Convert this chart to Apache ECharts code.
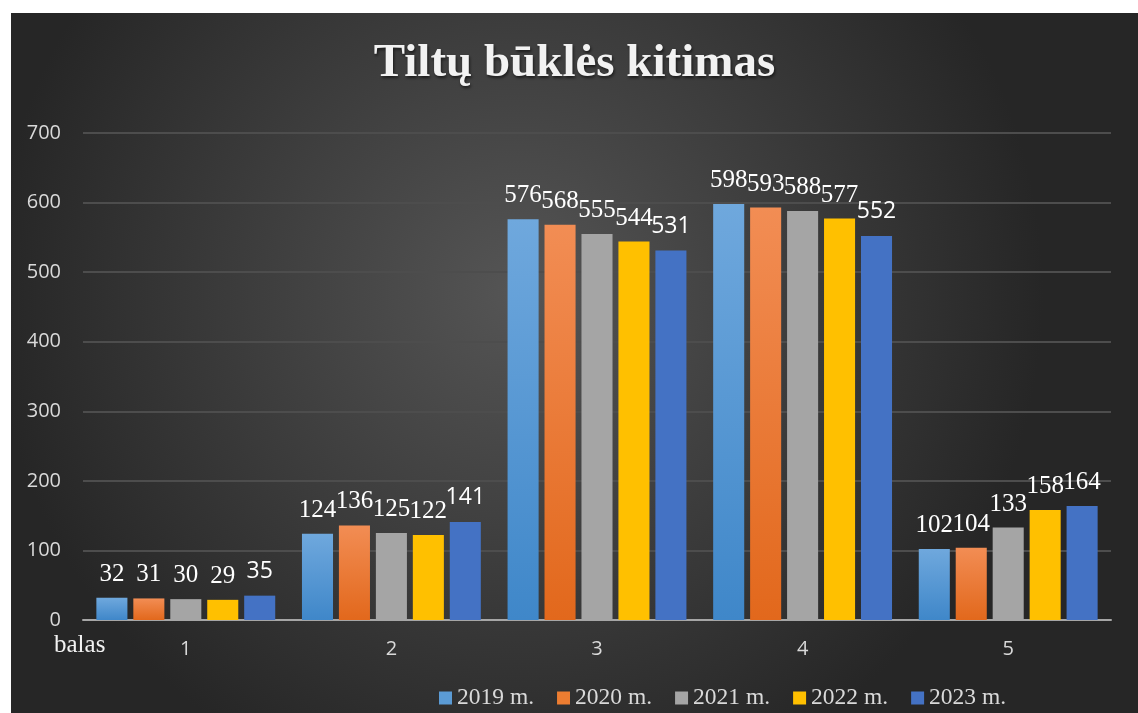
<!DOCTYPE html>
<html>
<head>
<meta charset="utf-8">
<script src="https://cdn.jsdelivr.net/npm/echarts@6/dist/echarts.min.js"></script>
<style>
  html, body { margin: 0; padding: 0; background: #fff; }
  #main { position: absolute; left: 11px; top: 13px; width: 1127px; height: 700px; }
</style>
</head>
<body>
<div id="main"></div>
<script>
// data
const categories = ['1', '2', '3', '4', '5'];
const years = ['2019 m.', '2020 m.', '2021 m.', '2022 m.', '2023 m.'];
const v2019 = [32, 124, 576, 598, 102];
const v2020 = [31, 136, 568, 593, 104];
const v2021 = [30, 125, 555, 588, 133];
const v2022 = [29, 122, 544, 577, 158];
const v2023 = [35, 141, 531, 552, 164];

const serif = '"Liberation Serif", "Times New Roman", serif';
const sans = '"Open Sans", "Liberation Sans", sans-serif';

// series colours
const vgrad = (top, bottom) => new echarts.graphic.LinearGradient(0, 0, 0, 1, [
    { offset: 0, color: top },
    { offset: 1, color: bottom }
]);
const colors = [
    vgrad('#6fa8dd', '#3f87c9'),
    vgrad('#f28d54', '#e2681c'),
    '#a5a5a5',
    '#ffc000',
    '#4472c4'
];
const legendColors = ['#5b9bd5', '#ed7d31', '#a5a5a5', '#ffc000', '#4472c4'];

const myChart = echarts.init(document.getElementById('main'));

const makeSeries = (name, values, i) => ({
    name: name,
    type: 'bar',
    barGap: '19%',
    barCategoryGap: '13%',
    itemStyle: { color: colors[i] },
    label: {
        show: true,
        position: 'top',
        distance: 11,
        color: '#ffffff',
        fontFamily: serif,
        fontSize: 25
    },
    data: values.map((v, k) => {
        // the last series mostly uses the sans label font
        if (i === 4 && k !== 4) {
            return { value: v, label: { fontFamily: sans, fontSize: 23, distance: 13 } };
        }
        return v;
    })
});

const option = {
    backgroundColor: new echarts.graphic.RadialGradient(0.45, 0.4, 0.75, [
        { offset: 0, color: '#555555' },
        { offset: 1, color: '#262626' }
    ]),
    title: {
        text: 'Tiltų būklės kitimas',
        left: 'center',
        top: 22,
        textStyle: {
            color: '#f2f2f2',
            fontFamily: serif,
            fontWeight: 'bold',
            fontSize: 47,
            textShadowColor: 'rgba(0,0,0,0.6)',
            textShadowBlur: 3,
            textShadowOffsetX: 1,
            textShadowOffsetY: 2
        }
    },
    legend: {
        data: years.map((y, i) => ({ name: y, itemStyle: { color: legendColors[i] } })),
        left: 428,
        bottom: 3,
        padding: 0,
        itemWidth: 13,
        itemHeight: 13,
        itemGap: 23,
        icon: 'rect',
        textStyle: {
            color: '#d9d9d9',
            fontFamily: serif,
            fontSize: 23.5
        }
    },
    grid: {
        left: 72,
        right: 27,
        top: 120,
        bottom: 93
    },
    xAxis: {
        type: 'category',
        data: categories,
        axisTick: { show: false },
        axisLine: { lineStyle: { color: '#a6a6a6', width: 2 } },
        axisLabel: {
            color: '#d9d9d9',
            fontFamily: sans,
            fontSize: 20,
            margin: 19
        }
    },
    yAxis: {
        type: 'value',
        min: 0,
        max: 700,
        interval: 100,
        axisLine: { show: false },
        axisTick: { show: false },
        splitLine: { lineStyle: { color: '#4d4d4d', width: 2 } },
        axisLabel: {
            color: '#d9d9d9',
            fontFamily: sans,
            fontSize: 20,
            margin: 22
        }
    },
    graphic: [{
        type: 'text',
        left: 43,
        top: 620,
        style: {
            text: 'balas',
            fill: '#f2f2f2',
            font: '25px ' + serif
        }
    }],
    series: [
        makeSeries(years[0], v2019, 0),
        makeSeries(years[1], v2020, 1),
        makeSeries(years[2], v2021, 2),
        makeSeries(years[3], v2022, 3),
        makeSeries(years[4], v2023, 4)
    ]
};

myChart.setOption(option);
</script>
</body>
</html>
